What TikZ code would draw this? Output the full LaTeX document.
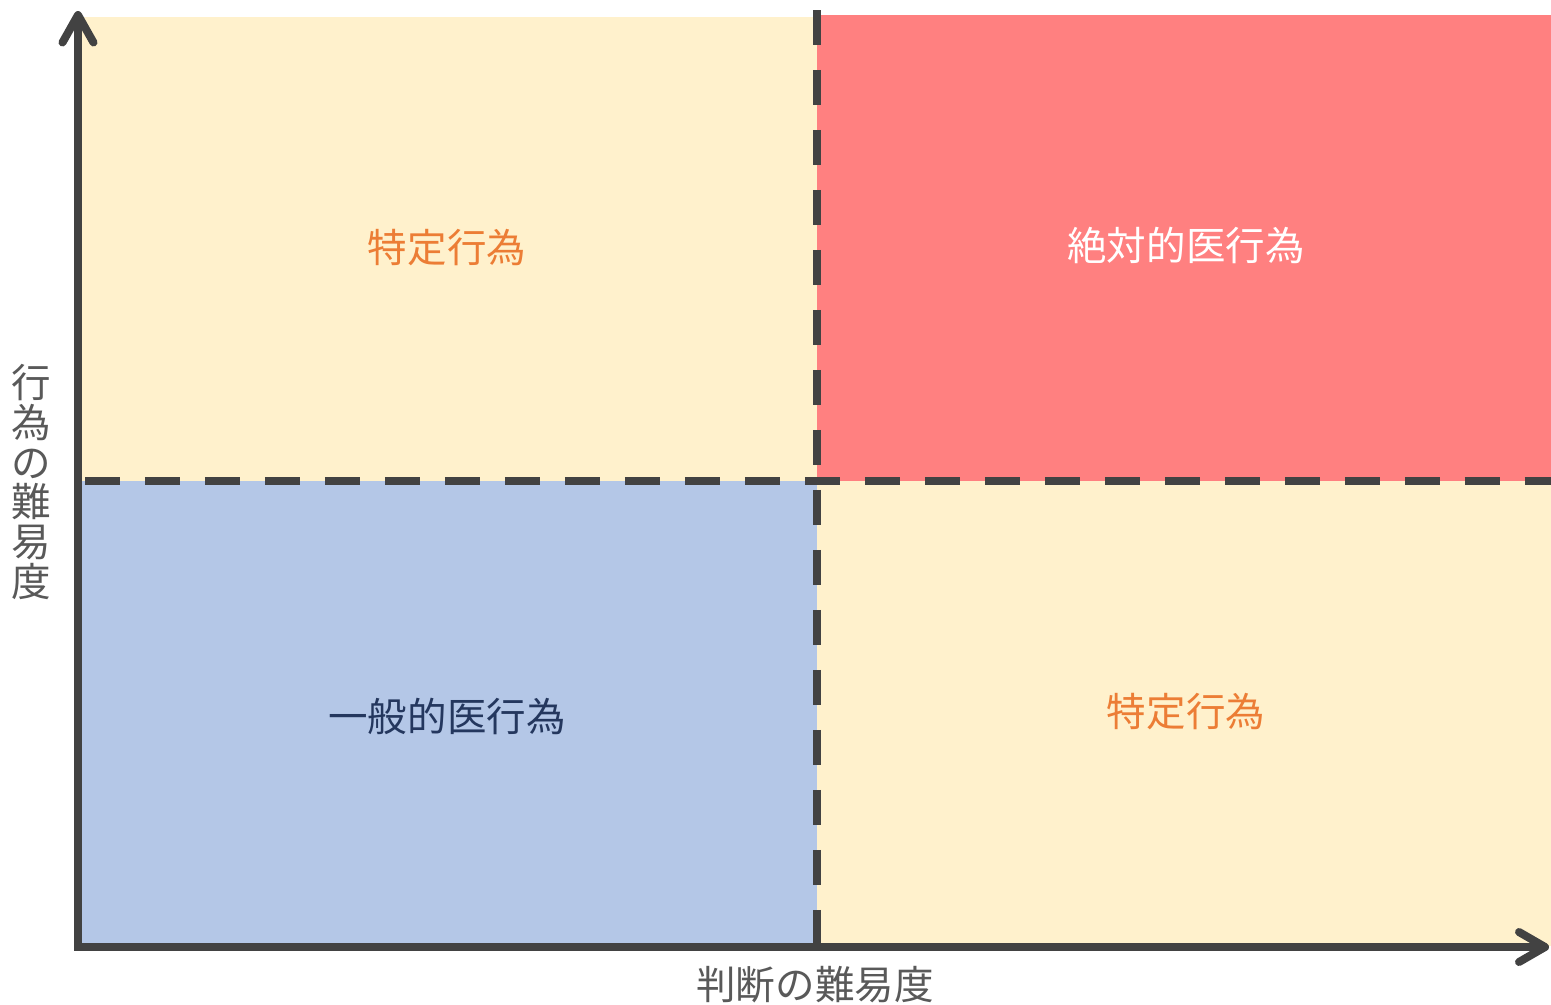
\documentclass[tikz,border=0pt]{standalone}
\usepackage{fontspec}
\newfontfamily\jp{Noto Sans CJK JP}
\usetikzlibrary{arrows.meta}
\definecolor{qyellow}{HTML}{FFF1CC}
\definecolor{qred}{HTML}{FF8080}
\definecolor{qblue}{HTML}{B4C7E7}
\definecolor{axisgray}{HTML}{424242}
\definecolor{labelgray}{HTML}{595959}
\definecolor{txtorange}{HTML}{EC7D35}
\definecolor{txtblue}{HTML}{24375E}
\begin{document}
\begin{tikzpicture}[x=0.02cm,y=-0.02cm,
  quadtext/.style={font=\jp\fontsize{22.5}{24}\selectfont, inner sep=0pt},
  axislabel/.style={font=\jp\fontsize{22.5}{22.6}\selectfont, text=labelgray, inner sep=0pt, align=center},
  divider/.style={draw=axisgray, line width=0.16cm, dash pattern=on 0.7cm off 0.5cm},
  axisline/.style={draw=axisgray, line width=0.16cm, line join=miter,
     {Straight Barb[round,length=0.55cm,width=0.62cm]}-{Straight Barb[round,length=0.52cm,width=0.6cm]}}
]
\useasboundingbox (0,0) rectangle (1551,1004);
\fill[white] (0,0) rectangle (1551,1004);
% quadrants
\fill[qyellow] (80,17) rectangle (817,481);
\fill[qred] (817,15) rectangle (1551,481);
\fill[qblue] (80,481) rectangle (817,946);
\fill[qyellow] (817,481) rectangle (1551,946);
% coordinates
\coordinate (vtop) at (817,10);
\coordinate (vbot) at (817,944);
\coordinate (hleft) at (85,481);
\coordinate (hright) at (1551,481);
\coordinate (ytip) at (78,11);
\coordinate (origin) at (78,947);
\coordinate (xtip) at (1549,947);
% dividers
\draw[divider] (vtop) -- (vbot);
\draw[divider] (hleft) -- (hright);
% axes
\draw[axisline] (ytip) -- (origin) -- (xtip);
% texts
\node[quadtext, text=txtorange] (tl) at (447,248) {特定行為};
\node[quadtext, text=white] (tr) at (1186,245) {絶対的医行為};
\node[quadtext, text=txtblue] (bl) at (447,716) {一般的医行為};
\node[quadtext, text=txtorange] (br) at (1186,712) {特定行為};
\node[axislabel] (ylab) at (31,482) {行\\為\\の\\難\\易\\度};
\node[axislabel] (xlab) at (815,985) {判断の難易度};
\end{tikzpicture}
\end{document}
